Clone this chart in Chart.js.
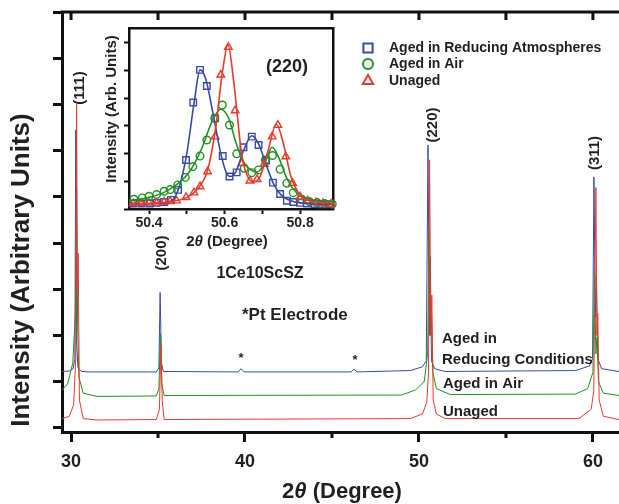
<!DOCTYPE html>
<html>
<head>
<meta charset="utf-8">
<script src="https://cdn.jsdelivr.net/npm/chart.js@4.4.1/dist/chart.umd.min.js"></script>
<style>
body { margin: 0; background: #fff; }
#wrap { position: relative; width: 619px; height: 504px; }
#main { position: absolute; left: 0; top: 0; }
#inset { position: absolute; left: 98px; top: 20px; }
</style>
</head>
<body>
<div id="wrap">
<canvas id="main" width="619" height="504"></canvas>
<canvas id="inset" width="242" height="232"></canvas>
</div>
<script>
// main pattern: 2theta (deg) and stacked intensity (arb. units)
let reducingTheta = [29.48, 29.9, 30.12, 30.22, 30.27, 30.32, 30.4, 30.6, 31.0, 34.9, 35.05, 35.12, 35.2, 35.3, 39.6, 39.77, 39.95, 46.1, 46.26, 46.45, 49.5, 50.2, 50.42, 50.52, 50.6, 50.65, 50.72, 50.9, 51.5, 59.0, 59.8, 59.98, 60.06, 60.14, 60.2, 60.28, 60.5, 61.5];
let reducingInt = [1.22, 1.23, 1.28, 1.5, 6.45, 1.8, 1.3, 1.22, 1.21, 1.21, 1.3, 2.93, 1.4, 1.22, 1.21, 1.28, 1.21, 1.21, 1.27, 1.21, 1.24, 1.32, 1.45, 6.12, 2.0, 3.7, 1.45, 1.28, 1.22, 1.24, 1.34, 1.5, 5.43, 2.4, 3.3, 1.5, 1.28, 1.22];

let airTheta = [29.48, 29.8, 30.1, 30.25, 30.32, 30.38, 30.45, 30.7, 31.5, 34.9, 35.05, 35.14, 35.22, 35.35, 49.0, 49.8, 50.3, 50.5, 50.58, 50.66, 50.71, 50.8, 51.0, 51.8, 59.0, 59.7, 60.0, 60.09, 60.17, 60.23, 60.32, 60.6, 61.5];
let airInt = [0.82, 0.95, 1.4, 2.5, 5.2, 2.2, 1.1, 0.75, 0.68, 0.69, 0.85, 2.05, 0.95, 0.7, 0.71, 0.82, 1.0, 1.6, 4.28, 2.0, 2.48, 1.2, 0.85, 0.72, 0.73, 0.85, 1.2, 3.42, 1.6, 1.96, 1.0, 0.75, 0.7];

let unagedTheta = [29.48, 29.9, 30.15, 30.27, 30.32, 30.36, 30.41, 30.48, 30.7, 31.5, 34.9, 35.08, 35.17, 35.24, 35.35, 49.5, 50.2, 50.45, 50.55, 50.61, 50.68, 50.74, 50.82, 51.0, 51.5, 59.2, 59.9, 60.05, 60.17, 60.23, 60.28, 60.36, 60.6, 61.5];
let unagedInt = [0.2, 0.25, 0.5, 1.5, 7.0, 3.0, 3.78, 0.6, 0.2, 0.17, 0.18, 0.4, 1.8, 0.6, 0.18, 0.2, 0.3, 0.55, 1.2, 5.8, 2.0, 2.87, 0.6, 0.3, 0.2, 0.2, 0.4, 0.8, 5.2, 2.0, 2.48, 0.6, 0.25, 0.18];

// inset (220) reflection: measured points
let insReducingTheta = [50.358, 50.38, 50.402, 50.42, 50.44, 50.458, 50.477, 50.498, 50.517, 50.535, 50.553, 50.575, 50.595, 50.613, 50.632, 50.65, 50.672, 50.69, 50.71, 50.728, 50.747, 50.765, 50.782, 50.8, 50.818, 50.838, 50.858, 50.878];
let insReducingInt = [0.2, 0.2, 0.2, 0.22, 0.25, 0.33, 0.69, 1.77, 3.84, 5.02, 4.44, 3.27, 1.91, 1.17, 1.32, 2.23, 2.61, 2.31, 1.75, 0.95, 0.54, 0.3, 0.25, 0.22, 0.2, 0.18, 0.17, 0.17];

let insAirTheta = [50.36, 50.382, 50.4, 50.42, 50.44, 50.456, 50.476, 50.496, 50.516, 50.535, 50.553, 50.574, 50.594, 50.613, 50.632, 50.652, 50.672, 50.69, 50.708, 50.727, 50.747, 50.765, 50.782, 50.804, 50.824, 50.845, 50.865, 50.885];
let insAirInt = [0.35, 0.4, 0.46, 0.52, 0.64, 0.7, 0.87, 1.14, 1.53, 1.91, 2.49, 3.27, 3.75, 3.03, 1.99, 1.47, 1.31, 1.41, 1.77, 1.93, 1.43, 0.93, 0.59, 0.35, 0.27, 0.23, 0.2, 0.18];

let insUnagedTheta = [50.358, 50.38, 50.4, 50.42, 50.44, 50.456, 50.473, 50.498, 50.519, 50.535, 50.555, 50.575, 50.59, 50.61, 50.628, 50.646, 50.667, 50.686, 50.705, 50.726, 50.741, 50.762, 50.78, 50.8, 50.82, 50.842, 50.86, 50.882];
let insUnagedInt = [0.2, 0.2, 0.22, 0.22, 0.26, 0.28, 0.3, 0.42, 0.59, 0.81, 1.35, 2.61, 4.84, 5.84, 3.55, 1.65, 1.02, 1.07, 1.62, 2.61, 3.03, 1.89, 0.93, 0.44, 0.3, 0.23, 0.2, 0.18];

// inset fitted curves
let fitReducingTheta = [50.347, 50.42, 50.46, 50.48, 50.5, 50.52, 50.535, 50.55, 50.57, 50.59, 50.605, 50.615, 50.63, 50.65, 50.672, 50.69, 50.71, 50.73, 50.75, 50.78, 50.82, 50.887];
let fitReducingInt = [0.18, 0.2, 0.3, 0.8, 2.0, 3.9, 5.02, 4.7, 3.4, 2.0, 1.3, 1.17, 1.35, 2.1, 2.64, 2.35, 1.6, 0.9, 0.5, 0.28, 0.2, 0.17];
let fitAirTheta = [50.347, 50.4, 50.44, 50.48, 50.51, 50.54, 50.565, 50.59, 50.61, 50.63, 50.65, 50.67, 50.686, 50.705, 50.726, 50.745, 50.765, 50.79, 50.82, 50.887];
let fitAirInt = [0.3, 0.42, 0.6, 0.95, 1.4, 2.2, 3.1, 3.6, 3.3, 2.4, 1.7, 1.4, 1.33, 1.6, 2.23, 1.8, 1.1, 0.6, 0.38, 0.25];
let fitUnagedTheta = [50.347, 50.44, 50.5, 50.53, 50.555, 50.575, 50.595, 50.609, 50.625, 50.645, 50.66, 50.677, 50.695, 50.715, 50.737, 50.755, 50.775, 50.8, 50.83, 50.887];
let fitUnagedInt = [0.18, 0.24, 0.42, 0.75, 1.4, 2.8, 5.0, 5.92, 4.5, 2.0, 1.2, 0.98, 1.2, 2.1, 3.06, 2.4, 1.2, 0.5, 0.28, 0.2];

let seriesNames = ["Aged in Reducing Atmospheres", "Aged in Air", "Unaged"];
let mainTicks = [30, 40, 50, 60];
let insetTicks = [50.4, 50.6, 50.8];

let blue = "#3a4aa8";
let green = "#1f921f";
let red = "#e83a2c";
let ink = "#231f20";
let fontName = "'Liberation Sans', Arial, sans-serif";

function toPoints(xs, ys) {
    return xs.map((x, i) => ({ x: x, y: ys[i] }));
}

function drawText(ctx, str, x, y, size, rot, align) {
    ctx.save();
    ctx.translate(x, y);
    if (rot) ctx.rotate(rot);
    ctx.font = "bold " + size + "px " + fontName;
    ctx.fillStyle = ink;
    ctx.textAlign = align || "center";
    ctx.textBaseline = "middle";
    ctx.fillText(str, 0, 0);
    ctx.restore();
}

// "2θ (Degree)" with italic theta, centred at x
function drawThetaTitle(ctx, x, y, size) {
    ctx.save();
    ctx.fillStyle = ink;
    ctx.textBaseline = "middle";
    let bold = "bold " + size + "px " + fontName;
    let ital = "italic bold " + size + "px " + fontName;
    ctx.font = bold;
    let w1 = ctx.measureText("2").width;
    let w3 = ctx.measureText(" (Degree)").width;
    ctx.font = ital;
    let w2 = ctx.measureText("\u03b8").width;
    let sx = x - (w1 + w2 + w3) / 2;
    ctx.font = bold;
    ctx.fillText("2", sx, y);
    ctx.font = ital;
    ctx.fillText("\u03b8", sx + w1, y);
    ctx.font = bold;
    ctx.fillText(" (Degree)", sx + w1 + w2, y);
    ctx.restore();
}

let mainDecor = {
    id: "mainDecor",
    afterDraw(chart) {
        let ctx = chart.ctx;
        let area = chart.chartArea;
        let xs = chart.scales.x;
        ctx.save();
        // top frame with inward ticks, short minor ticks below the axis
        ctx.strokeStyle = "#111";
        ctx.lineWidth = 3;
        ctx.beginPath();
        ctx.moveTo(area.left - 1.5, area.top);
        ctx.lineTo(area.right, area.top);
        xs.ticks.forEach(t => {
            let px = xs.getPixelForValue(t.value);
            ctx.moveTo(px, area.top);
            ctx.lineTo(px, area.top + 8);
            if (!mainTicks.includes(t.value)) {
                ctx.moveTo(px, area.bottom);
                ctx.lineTo(px, area.bottom + 6);
            }
        });
        ctx.stroke();
        ctx.restore();

        // peak indices
        drawText(ctx, "(111)", 80, 88, 15, -Math.PI / 2);
        drawText(ctx, "(200)", 162, 253, 15, -Math.PI / 2);
        drawText(ctx, "(220)", 433, 125, 15, -Math.PI / 2);
        drawText(ctx, "(311)", 595, 153, 15, -Math.PI / 2);

        drawText(ctx, "1Ce10ScSZ", 260, 274, 16);
        drawText(ctx, "*Pt Electrode", 242, 315, 17, 0, "left");
        drawText(ctx, "*", 241, 358, 13);
        drawText(ctx, "*", 355, 360, 13);

        drawText(ctx, "Aged in", 442, 339, 15, 0, "left");
        drawText(ctx, "Reducing Conditions", 442, 360, 15, 0, "left");
        drawText(ctx, "Aged in Air", 443, 384, 15, 0, "left");
        drawText(ctx, "Unaged", 443, 412, 15, 0, "left");

        // legend for the inset
        let styles = ["rect", "circle", "triangle"];
        let colors = [blue, green, red];
        let radii = [6.5, 5, 6];
        let rowsY = [48, 64, 81];
        seriesNames.forEach((name, i) => {
            ctx.save();
            ctx.strokeStyle = colors[i];
            ctx.fillStyle = "rgba(0,0,0,0)";
            ctx.lineWidth = 2;
            Chart.helpers.drawPoint(ctx, { pointStyle: styles[i], radius: radii[i], borderWidth: 2 }, 368, rowsY[i]);
            ctx.restore();
            drawText(ctx, name, 389, rowsY[i], 14, 0, "left");
        });

        // axis titles
        drawThetaTitle(ctx, 342, 492, 22);
        drawText(ctx, "Intensity (Arbitrary Units)", 22, 270, 26, -Math.PI / 2);
    }
};

let lineSet = (label, pts, color) => ({
    label: label,
    data: pts,
    borderColor: color,
    borderWidth: 1,
    pointRadius: 0,
    tension: 0,
    fill: false
});

new Chart(document.getElementById("main"), {
    type: "line",
    data: {
        datasets: [
            lineSet(seriesNames[2], toPoints(unagedTheta, unagedInt), red),
            lineSet(seriesNames[1], toPoints(airTheta, airInt), green),
            lineSet(seriesNames[0], toPoints(reducingTheta, reducingInt), blue)
        ]
    },
    options: {
        responsive: false,
        animation: false,
        layout: { padding: { top: 12, right: 0 } },
        plugins: { legend: { display: false }, tooltip: { enabled: false } },
        scales: {
            x: {
                type: "linear",
                min: 29.48,
                max: 61.5,
                afterFit: s => { s.height = 72; },
                ticks: {
                    stepSize: 5,
                    includeBounds: false,
                    autoSkip: false,
                    maxRotation: 0,
                    padding: 9,
                    color: ink,
                    font: { family: fontName, size: 18, weight: "bold" },
                    callback: v => (mainTicks.includes(v) ? String(v) : "")
                },
                grid: {
                    drawOnChartArea: false,
                    tickLength: 10,
                    tickWidth: 3,
                    tickColor: c => (c.tick && mainTicks.includes(c.tick.value) ? "#111" : "rgba(0,0,0,0)")
                },
                border: { display: true, width: 3, color: "#111" }
            },
            y: {
                min: -0.09,
                max: 9,
                afterFit: s => { s.width = 62; },
                ticks: { stepSize: 1, includeBounds: false, display: false },
                grid: { drawOnChartArea: false, tickLength: 9, tickWidth: 3, tickColor: "#111" },
                border: { display: true, width: 3, color: "#111" }
            }
        }
    },
    plugins: [mainDecor]
});

let insetDecor = {
    id: "insetDecor",
    afterDraw(chart) {
        let ctx = chart.ctx;
        drawText(ctx, "(220)", 189, 47, 18);
        drawThetaTitle(ctx, 129, 222, 15);
        drawText(ctx, "Intensity (Arb. Units)", 14, 89, 15, -Math.PI / 2);
    }
};

let markerSet = (label, pts, color, style, r) => ({
    label: label,
    data: pts,
    showLine: false,
    borderColor: color,
    backgroundColor: "rgba(0,0,0,0)",
    pointStyle: style,
    pointRadius: r,
    pointBorderWidth: 1.4
});

let fitSet = (pts, color) => ({
    data: pts,
    borderColor: color,
    borderWidth: 1.6,
    pointRadius: 0,
    cubicInterpolationMode: "monotone",
    fill: false
});

new Chart(document.getElementById("inset"), {
    type: "line",
    data: {
        datasets: [
            fitSet(toPoints(fitUnagedTheta, fitUnagedInt), red),
            fitSet(toPoints(fitAirTheta, fitAirInt), green),
            fitSet(toPoints(fitReducingTheta, fitReducingInt), blue),
            markerSet(seriesNames[2], toPoints(insUnagedTheta, insUnagedInt), red, "triangle", 4.4),
            markerSet(seriesNames[1], toPoints(insAirTheta, insAirInt), green, "circle", 3.8),
            markerSet(seriesNames[0], toPoints(insReducingTheta, insReducingInt), blue, "rect", 4.6)
        ]
    },
    options: {
        responsive: false,
        animation: false,
        clip: false,
        layout: { padding: { top: 8, right: 7 } },
        plugins: { legend: { display: false }, tooltip: { enabled: false } },
        scales: {
            x: {
                type: "linear",
                min: 50.347,
                max: 50.887,
                afterFit: s => { s.height = 43; },
                ticks: {
                    stepSize: 0.1,
                    includeBounds: false,
                    autoSkip: false,
                    maxRotation: 0,
                    padding: 1,
                    color: ink,
                    font: { family: fontName, size: 14, weight: "bold" },
                    callback: v => {
                        let r = Math.round(v * 10) / 10;
                        return insetTicks.includes(r) ? r.toFixed(1) : "";
                    }
                },
                grid: { drawOnChartArea: false, tickLength: 5, tickWidth: 2, tickColor: "#111" },
                border: { display: true, width: 2.5, color: "#111" }
            },
            y: {
                min: 0,
                max: 6.53,
                afterFit: s => { s.width = 31; },
                ticks: { stepSize: 1, includeBounds: false, display: false },
                grid: { drawOnChartArea: false, tickLength: 5, tickWidth: 2, tickColor: "#111" },
                border: { display: true, width: 2.5, color: "#111" }
            },
            x2: {
                type: "linear",
                position: "top",
                min: 50.347,
                max: 50.887,
                afterFit: s => { s.height = 0; },
                ticks: { display: false },
                grid: { display: false },
                border: { display: true, width: 2.5, color: "#111" }
            },
            y2: {
                position: "right",
                min: 0,
                max: 6.53,
                afterFit: s => { s.width = 0; },
                ticks: { display: false },
                grid: { display: false },
                border: { display: true, width: 2.5, color: "#111" }
            }
        }
    },
    plugins: [insetDecor]
});
</script>
</body>
</html>
